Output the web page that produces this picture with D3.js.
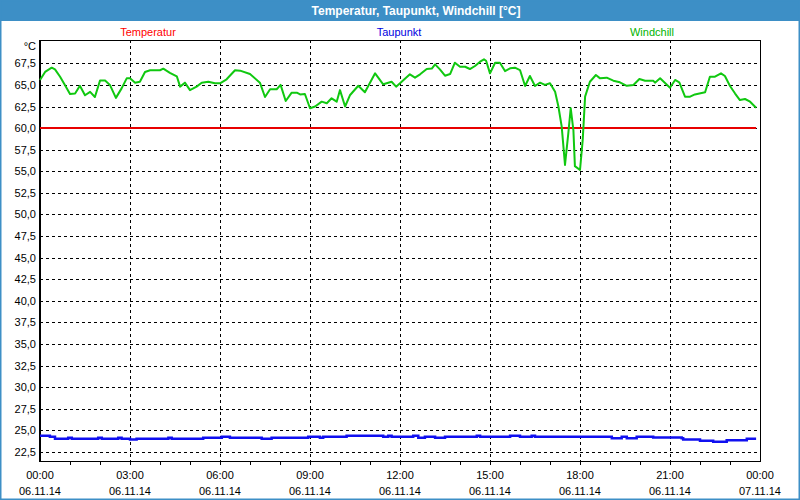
<!DOCTYPE html>
<html>
<head>
<meta charset="utf-8">
<script src="https://cdn.jsdelivr.net/npm/d3@7"></script>
<style>
  html, body { margin: 0; padding: 0; background: #ffffff; }
  svg { display: block; }
  text { font-family: "Liberation Sans", Arial, sans-serif; }
</style>
</head>
<body>
<svg id="chart" width="800" height="500"></svg>
<script>
// ---------- data ----------
const chartTitle = "Temperatur, Taupunkt, Windchill [°C]";
const seriesNames = ["Temperatur", "Taupunkt", "Windchill"];
const yTickValues = [22.5, 25, 27.5, 30, 32.5, 35, 37.5, 40, 42.5, 45, 47.5, 50, 52.5, 55, 57.5, 60, 62.5, 65, 67.5];
const xTickHours = [0, 3, 6, 9, 12, 15, 18, 21, 24];
const xTickTimes = ["00:00", "03:00", "06:00", "09:00", "12:00", "15:00", "18:00", "21:00", "00:00"];
const xTickDates = ["06.11.14", "06.11.14", "06.11.14", "06.11.14", "06.11.14", "06.11.14", "06.11.14", "06.11.14", "07.11.14"];

// hours since 06.11.14 00:00
const temperaturHours = [0, 23.87];
const temperaturValues = [60.0, 60.0];

const taupunktHours = [0, 0.33, 0.5, 0.94, 1.06, 1.94, 2.06, 2.61, 2.72, 3.0, 3.22, 4.28, 4.39, 5.44, 6.06, 6.33,
  7.39, 7.72, 8.94, 9.33, 9.44, 10.22, 11.44, 11.61, 11.72, 12.44, 12.61, 12.83, 13.17, 13.5, 14.56, 14.67,
  15.67, 16.0, 16.39, 16.5, 19.06, 19.39, 19.56, 19.89, 20.44, 21.39, 21.44, 22.0, 22.44, 22.89, 23.56, 23.87];
const taupunktValues = [24.38, 24.26, 24.03, 24.15, 24.03, 24.15, 24.03, 24.15, 24.03, 23.96, 24.03, 24.15, 24.03, 24.15, 24.26, 24.15,
  24.03, 24.15, 24.26, 24.15, 24.26, 24.38, 24.26, 24.38, 24.26, 24.38, 24.15, 24.26, 24.15, 24.26, 24.38, 24.26,
  24.38, 24.26, 24.38, 24.26, 24.1, 24.26, 24.1, 24.26, 24.18, 24.1, 23.96, 23.8, 23.7, 23.85, 24.03, 24.03];

const windchillHours = [0, 0.17, 0.39, 0.5, 0.67, 0.83, 1.0, 1.17, 1.33, 1.5, 1.67, 1.83, 2.0, 2.17, 2.33, 2.53, 2.72, 2.89,
  3.0, 3.17, 3.33, 3.5, 3.67, 4.0, 4.11, 4.33, 4.56, 4.67, 4.83, 5.0, 5.22, 5.39, 5.61, 5.83,
  6.0, 6.22, 6.5, 6.67, 7.0, 7.33, 7.5, 7.67, 7.89, 8.02, 8.19, 8.39, 8.56, 8.67, 8.83,
  9.0, 9.17, 9.39, 9.56, 9.72, 9.89, 10.0, 10.17, 10.33, 10.61, 10.83, 11.17, 11.44, 11.72, 11.87,
  12.0, 12.33, 12.5, 12.67, 12.89, 13.06, 13.17, 13.33, 13.5, 13.67, 13.83, 14.0, 14.17, 14.33, 14.5, 14.67, 14.8, 14.87,
  15.0, 15.17, 15.33, 15.5, 15.67, 15.83, 16.0, 16.17, 16.33, 16.5, 16.67, 16.83, 17.0, 17.17, 17.28, 17.39, 17.5,
  17.61, 17.69, 17.78, 17.83, 18.0, 18.09, 18.17, 18.33, 18.53, 18.67, 18.89, 19.11, 19.33, 19.56, 19.78, 19.98,
  20.17, 20.44, 20.5, 20.67, 21.0, 21.17, 21.31, 21.5, 21.67, 21.83, 22.17, 22.33, 22.5, 22.7, 22.83,
  23.0, 23.17, 23.33, 23.5, 23.67, 23.87];
const windchillValues = [65.57, 66.5, 67.0, 66.8, 65.95, 65.0, 63.95, 64.0, 64.9, 63.8, 64.2, 63.6, 65.5, 65.5, 65.0, 63.5, 64.6, 65.76,
  65.76, 65.26, 65.37, 66.5, 66.7, 66.7, 66.88, 66.4, 66.0, 64.8, 65.26, 64.4, 64.8, 65.26, 65.37, 65.19,
  65.19, 65.65, 66.7, 66.65, 66.26, 65.26, 63.6, 64.5, 64.5, 65.0, 63.14, 64.1, 64.1, 63.9, 63.95,
  62.3, 62.5, 63.06, 62.87, 63.45, 63.06, 64.4, 62.5, 63.8, 64.9, 64.15, 66.34, 65.07, 65.37, 64.8,
  65.19, 66.23, 65.84, 66.23, 66.84, 66.9, 67.38, 66.8, 66.07, 66.26, 67.57, 67.1, 67.1, 66.84, 67.19, 67.69, 67.96, 67.8,
  66.34, 67.57, 67.57, 66.6, 66.92, 67.0, 66.72, 64.87, 66.03, 64.87, 65.26, 65.0, 65.19, 64.21, 62.5, 60.17, 55.74,
  59.4, 62.3, 59.78, 55.6, 55.15, 58.6, 63.64, 65.37, 66.15, 65.76, 65.84, 65.49, 65.3, 64.9, 65.0, 65.68,
  65.49, 65.49, 65.26, 65.76, 64.68, 65.57, 65.3, 63.64, 63.64, 63.9, 64.15, 65.95, 65.95, 66.34, 66.03,
  64.87, 64.0, 63.25, 63.37, 63.06, 62.36];

// ---------- layout ----------
const W = 800, H = 500;
const plot = { left: 40, right: 760, top: 40, bottom: 461 };
const colors = { temp: "#e80000", dew: "#1010f0", wind: "#10c810", titleBar: "#3d8fc6" };
const legendColors = ["#ff0000", "#0000e0", "#00b400"];
const legendX = [148, 399, 652];

const svg = d3.select("#chart");

// window frame & title bar
svg.append("rect").attr("x", 0).attr("y", 0).attr("width", W).attr("height", H).attr("fill", "#ffffff");
svg.append("rect").attr("x", 0).attr("y", 0).attr("width", W).attr("height", 21).attr("fill", colors.titleBar);
svg.append("rect").attr("x", 0.75).attr("y", 0.75).attr("width", W - 1.5).attr("height", H - 1.5)
  .attr("fill", "none").attr("stroke", colors.titleBar).attr("stroke-width", 1.5);
svg.append("text").attr("x", 416).attr("y", 14.5).attr("text-anchor", "middle")
  .attr("fill", "#ffffff").attr("font-weight", "bold").attr("font-size", 12).text(chartTitle);

// scales
const x = d3.scaleLinear().domain([0, 24]).range([plot.left, plot.right]);
const y = d3.scaleLinear().domain([21.46, 70.2]).range([plot.bottom, plot.top]);
const px = v => Math.round(v) + 0.5;

// grid
const g = svg.append("g");
g.selectAll("line.hg").data(yTickValues).enter().append("line")
  .attr("x1", plot.left).attr("x2", plot.right)
  .attr("y1", d => px(y(d))).attr("y2", d => px(y(d)))
  .attr("stroke", "#000").attr("stroke-width", 1).attr("stroke-dasharray", "3,3")
  .attr("shape-rendering", "crispEdges");
g.selectAll("line.vg").data(xTickHours.filter(h => h > 0 && h < 24)).enter().append("line")
  .attr("y1", plot.top).attr("y2", plot.bottom)
  .attr("x1", d => px(x(d))).attr("x2", d => px(x(d)))
  .attr("stroke", "#000").attr("stroke-width", 1).attr("stroke-dasharray", "3,3")
  .attr("shape-rendering", "crispEdges");

// minor hour ticks below the axis
g.selectAll("line.mt").data(d3.range(1, 24)).enter().append("line")
  .attr("x1", d => px(x(d))).attr("x2", d => px(x(d)))
  .attr("y1", plot.bottom).attr("y2", plot.bottom + 4)
  .attr("stroke", "#000").attr("shape-rendering", "crispEdges");

// frame (left edge 2px, others 1px)
svg.append("rect").attr("x", plot.left + 0.5).attr("y", plot.top + 0.5)
  .attr("width", plot.right - plot.left).attr("height", plot.bottom - plot.top)
  .attr("fill", "none").attr("stroke", "#000").attr("stroke-width", 1).attr("shape-rendering", "crispEdges");
svg.append("line").attr("x1", plot.left - 0.5).attr("x2", plot.left - 0.5)
  .attr("y1", plot.top).attr("y2", plot.bottom + 1)
  .attr("stroke", "#000").attr("stroke-width", 1).attr("shape-rendering", "crispEdges");

// y labels
svg.selectAll("text.yl").data(yTickValues).enter().append("text")
  .attr("x", 36).attr("y", d => y(d) + 4).attr("text-anchor", "end")
  .attr("font-size", 11).attr("fill", "#000")
  .text(d => d3.format(".1f")(d).replace(".", ","));
svg.append("text").attr("x", 36).attr("y", 50).attr("text-anchor", "end")
  .attr("font-size", 11).attr("fill", "#000").text("°C");

// x labels
svg.selectAll("text.xt").data(xTickHours).enter().append("text")
  .attr("x", d => x(d)).attr("y", 479).attr("text-anchor", "middle")
  .attr("font-size", 11).attr("fill", "#000").text((d, i) => xTickTimes[i]);
svg.selectAll("text.xd").data(xTickHours).enter().append("text")
  .attr("x", d => x(d)).attr("y", 495).attr("text-anchor", "middle")
  .attr("font-size", 11).attr("fill", "#000").text((d, i) => xTickDates[i]);

// legend
svg.selectAll("text.lg").data(seriesNames).enter().append("text")
  .attr("x", (d, i) => legendX[i]).attr("y", 36).attr("text-anchor", "middle")
  .attr("font-size", 11).attr("fill", (d, i) => legendColors[i]).text(d => d);

// series
const zip = (hs, vs) => hs.map((h, i) => [h, vs[i]]);
const line = d3.line().x(d => x(d[0])).y(d => y(d[1]));
const stepLine = d3.line().x(d => x(d[0])).y(d => y(d[1])).curve(d3.curveStepAfter);

svg.append("path").datum(zip(temperaturHours, temperaturValues)).attr("d", line)
  .attr("fill", "none").attr("stroke", colors.temp).attr("stroke-width", 2);
svg.append("path").datum(zip(taupunktHours, taupunktValues)).attr("d", stepLine)
  .attr("fill", "none").attr("stroke", colors.dew).attr("stroke-width", 2.5);
svg.append("path").datum(zip(windchillHours, windchillValues)).attr("d", line)
  .attr("fill", "none").attr("stroke", colors.wind).attr("stroke-width", 2)
  .attr("stroke-linejoin", "round");
</script>
</body>
</html>
